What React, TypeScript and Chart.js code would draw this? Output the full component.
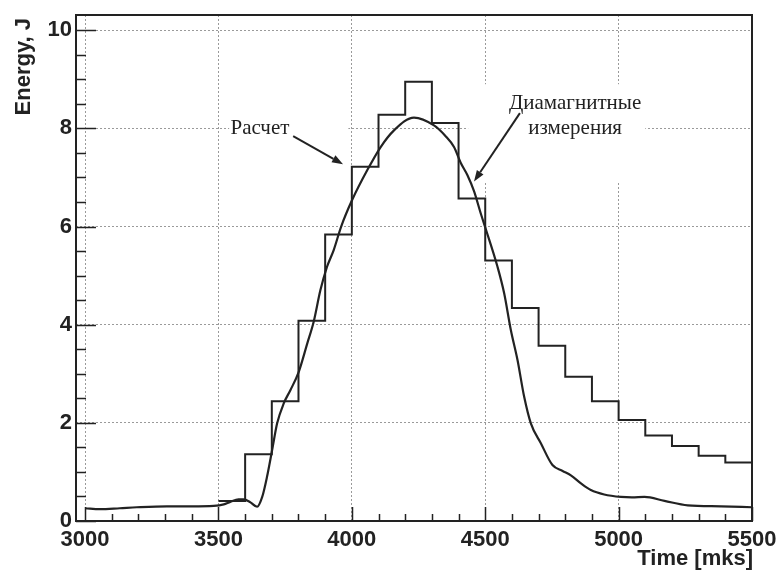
import React, { useEffect, useRef } from 'react';
import { Chart, registerables } from 'chart.js';

Chart.register(...registerables);

// ---- Data ----
const histEdges = [3500, 3600, 3700, 3800, 3900, 4000, 4100, 4200, 4300, 4400, 4500, 4600, 4700, 4800, 4900, 5000, 5100, 5200, 5300, 5400];
const histValues = [0.41, 1.36, 2.44, 4.08, 5.84, 7.22, 8.28, 8.95, 8.11, 6.57, 5.31, 4.34, 3.57, 2.94, 2.44, 2.06, 1.74, 1.53, 1.33, 1.19];
const histEnd = 5500;

const curveTime = [3000, 3056, 3130, 3194, 3307, 3400, 3482, 3520, 3544, 3575, 3594, 3620, 3645, 3664, 3682, 3701, 3720, 3745, 3770, 3801, 3833, 3857, 3882, 3907, 3932, 3960, 4001, 4058, 4108, 4158, 4233, 4308, 4350, 4383, 4408, 4433, 4458, 4483, 4502, 4546, 4571, 4596, 4621, 4646, 4671, 4709, 4752, 4790, 4821, 4860, 4896, 4946, 5009, 5050, 5097, 5172, 5259, 5384, 5500];
const curveEnergy = [0.26, 0.24, 0.26, 0.28, 0.30, 0.30, 0.31, 0.34, 0.39, 0.44, 0.44, 0.38, 0.29, 0.49, 0.90, 1.44, 1.99, 2.40, 2.67, 3.04, 3.62, 4.06, 4.70, 5.18, 5.52, 6.00, 6.54, 7.15, 7.62, 7.96, 8.22, 8.06, 7.85, 7.62, 7.30, 7.05, 6.72, 6.27, 5.95, 5.18, 4.64, 3.89, 3.28, 2.53, 1.99, 1.58, 1.14, 1.02, 0.93, 0.76, 0.63, 0.54, 0.49, 0.48, 0.49, 0.41, 0.32, 0.30, 0.28];

const xMajorTicks = [3000, 3500, 4000, 4500, 5000, 5500];
const xTickLabels = ['3000', '3500', '4000', '4500', '5000', '5500'];
const yMajorTicks = [0, 2, 4, 6, 8, 10];
const yTickLabels = ['0', '2', '4', '6', '8', '10'];
const xMinorStep = 100;
const yMinorStep = 0.5;

const xMin = 2966;
const xMax = 5500;
const yMin = 0;
const yMax = 10.31;

const xTitle = 'Time [mks]';
const yTitle = 'Energy, J';
const label1 = ['Расчет'];
const label2 = ['Диамагнитные', 'измерения'];

const INK = '#222222';

function drawArrow(ctx: CanvasRenderingContext2D, x1: number, y1: number, x2: number, y2: number) {
  const ang = Math.atan2(y2 - y1, x2 - x1);
  const headLen = 11;
  const headW = 4;
  const bx = x2 - headLen * Math.cos(ang);
  const by = y2 - headLen * Math.sin(ang);
  ctx.save();
  ctx.strokeStyle = INK;
  ctx.fillStyle = INK;
  ctx.lineWidth = 2;
  ctx.beginPath();
  ctx.moveTo(x1, y1);
  ctx.lineTo(bx, by);
  ctx.stroke();
  ctx.beginPath();
  ctx.moveTo(x2, y2);
  ctx.lineTo(bx + headW * Math.sin(ang), by - headW * Math.cos(ang));
  ctx.lineTo(bx - headW * Math.sin(ang), by + headW * Math.cos(ang));
  ctx.closePath();
  ctx.fill();
  ctx.restore();
}

const rootPlugin = {
  id: 'rootStyle',
  beforeDatasetsDraw(chart: any) {
    const ctx: CanvasRenderingContext2D = chart.ctx;
    const xs = chart.scales.x;
    const ys = chart.scales.y;
    const px = (v: number) => xs.getPixelForValue(v);
    const py = (v: number) => ys.getPixelForValue(v);
    ctx.save();
    // white boxes behind annotation texts
    ctx.fillStyle = '#ffffff';
    ctx.fillRect(px(3540), py(8.3), px(3987) - px(3540), py(7.75) - py(8.3));
    ctx.fillRect(px(4436), py(8.9), px(5100) - px(4436), py(6.9) - py(8.9));
    // texts
    ctx.fillStyle = INK;
    ctx.font = "21px 'Liberation Serif', 'Times New Roman', serif";
    ctx.textBaseline = 'middle';
    ctx.textAlign = 'left';
    ctx.fillText(label1[0], px(3545), py(8.0));
    ctx.textAlign = 'center';
    ctx.fillText(label2[0], px(4837), py(8.5));
    ctx.fillText(label2[1], px(4837), py(8.0));
    drawArrow(ctx, px(3780), py(7.84), px(3967), py(7.27));
    drawArrow(ctx, px(4630), py(8.31), px(4458), py(6.92));
    ctx.restore();
  },
  afterDraw(chart: any) {
    const ctx: CanvasRenderingContext2D = chart.ctx;
    const xs = chart.scales.x;
    const ys = chart.scales.y;
    const area = chart.chartArea;
    ctx.save();
    ctx.strokeStyle = INK;
    ctx.lineWidth = 1.5;
    // x ticks (inside frame, from bottom)
    ctx.beginPath();
    for (let v = xMajorTicks[0]; v <= xMax + 1e-6; v += xMinorStep) {
      const isMajor = xMajorTicks.some((m) => Math.abs(m - v) < 1e-6);
      const x = Math.round(xs.getPixelForValue(v)) + 0.5;
      ctx.moveTo(x, area.bottom);
      ctx.lineTo(x, area.bottom - (isMajor ? 14 : 7));
    }
    // y ticks (inside frame, from left)
    for (let v = yMin; v <= yMax + 1e-6; v += yMinorStep) {
      const isMajor = yMajorTicks.some((m) => Math.abs(m - v) < 1e-6);
      const y = Math.round(ys.getPixelForValue(v)) + 0.5;
      ctx.moveTo(area.left, y);
      ctx.lineTo(area.left + (isMajor ? 20 : 10), y);
    }
    ctx.stroke();
    // frame
    ctx.lineWidth = 2;
    ctx.strokeRect(area.left, area.top, area.right - area.left, area.bottom - area.top);
    // tick labels
    ctx.fillStyle = INK;
    ctx.font = "bold 22px 'Liberation Sans', Arial, sans-serif";
    ctx.textAlign = 'center';
    ctx.textBaseline = 'top';
    xMajorTicks.forEach((v, i) => {
      ctx.fillText(xTickLabels[i], xs.getPixelForValue(v), area.bottom + 8);
    });
    ctx.textAlign = 'right';
    ctx.textBaseline = 'middle';
    yMajorTicks.forEach((v, i) => {
      ctx.fillText(yTickLabels[i], area.left - 4, ys.getPixelForValue(v));
    });
    // axis titles
    ctx.textAlign = 'right';
    ctx.textBaseline = 'alphabetic';
    ctx.fillText(xTitle, area.right + 1, 565);
    ctx.save();
    ctx.translate(30, 18);
    ctx.rotate(-Math.PI / 2);
    ctx.textAlign = 'right';
    ctx.textBaseline = 'alphabetic';
    ctx.fillText(yTitle, 0, 0);
    ctx.restore();
    ctx.restore();
  },
};

export default function App() {
  const canvasRef = useRef<HTMLCanvasElement | null>(null);

  useEffect(() => {
    if (!canvasRef.current) return;
    const histPoints = histEdges.map((x, i) => ({ x, y: histValues[i] }));
    histPoints.push({ x: histEnd, y: histValues[histValues.length - 1] });
    const curvePoints = curveTime.map((x, i) => ({ x, y: curveEnergy[i] }));

    const chart = new Chart(canvasRef.current, {
      type: 'line',
      data: {
        datasets: [
          {
            label: 'hist',
            data: histPoints,
            stepped: true,
            borderColor: INK,
            borderWidth: 2,
            pointRadius: 0,
            fill: false,
          },
          {
            label: 'curve',
            data: curvePoints,
            borderColor: INK,
            borderWidth: 2.2,
            pointRadius: 0,
            cubicInterpolationMode: 'monotone',
            fill: false,
          },
        ],
      },
      options: {
        responsive: false,
        animation: false,
        layout: { padding: { left: 76, right: 28, top: 15, bottom: 52 } },
        plugins: { legend: { display: false }, tooltip: { enabled: false } },
        scales: {
          x: {
            type: 'linear',
            min: xMin,
            max: xMax,
            afterBuildTicks: (s: any) => {
              s.ticks = xMajorTicks.map((v) => ({ value: v }));
            },
            afterFit: (s: any) => {
              s.height = 0;
            },
            ticks: { display: false },
            grid: { color: '#9a9a9a', lineWidth: 1, drawTicks: false },
            border: { display: false, dash: [2, 2] },
          },
          y: {
            type: 'linear',
            min: yMin,
            max: yMax,
            afterBuildTicks: (s: any) => {
              s.ticks = yMajorTicks.map((v) => ({ value: v }));
            },
            afterFit: (s: any) => {
              s.width = 0;
            },
            ticks: { display: false },
            grid: { color: '#9a9a9a', lineWidth: 1, drawTicks: false },
            border: { display: false, dash: [2, 2] },
          },
        },
      },
      plugins: [rootPlugin],
    } as any);
    return () => chart.destroy();
  }, []);

  return (
    <div style={{ position: 'absolute', left: 0, top: 0, width: 780, height: 573, background: '#fff' }}>
      <canvas ref={canvasRef} width={780} height={573} style={{ display: 'block' }} />
    </div>
  );
}
